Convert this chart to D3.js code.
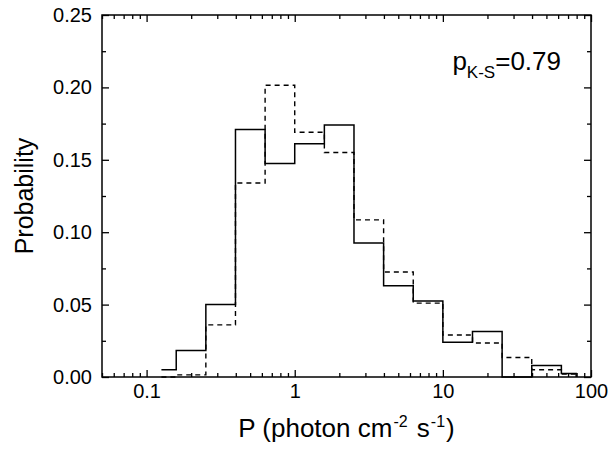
<!DOCTYPE html>
<html>
<head>
<meta charset="utf-8">
<script src="https://cdn.jsdelivr.net/npm/d3@7"></script>
<style>
  body { margin: 0; background: #fff; }
  text { font-family: "Liberation Sans", Arial, sans-serif; fill: #000; }
</style>
</head>
<body>
<div id="chart"></div>
<script>
'use strict';

// bin edges (photon cm^-2 s^-1), 0.2 dex wide, half bins at both ends
const bin_edges = [0.1259, 0.1585, 0.2512, 0.3981, 0.631, 1, 1.585, 2.512, 3.981, 6.31, 10, 15.85, 25.12, 39.81, 63.1, 79.43]
// observed (solid) and model (dashed) probabilities per bin
const solid_values = [0.005, 0.0183, 0.05, 0.171, 0.1475, 0.161, 0.174, 0.0925, 0.063, 0.0525, 0.024, 0.0315, 0, 0.008, 0.0025]
const dashed_values = [0, 0.0015, 0.036, 0.134, 0.2015, 0.169, 0.155, 0.1085, 0.0725, 0.051, 0.029, 0.0235, 0.0135, 0.005, 0.002]

const x_major = [0.1, 1, 10, 100]
const x_labels = ['0.1', '1', '10', '100']
const y_major = [0, 0.05, 0.1, 0.15, 0.2, 0.25]
const y_minor = [0.025, 0.075, 0.125, 0.175, 0.225]
const ks_label = '0.79'

const dims = { width: 613, height: 456, left: 102, right: 591, top: 15, bottom: 377 }

const svg = d3.select('#chart').append('svg')
  .attr('width', dims.width)
  .attr('height', dims.height)

const xScale = d3.scaleLog()
  .domain([0.05, 100])
  .range([dims.left, dims.right])

const yScale = d3.scaleLinear()
  .domain([0, 0.25])
  .range([dims.bottom, dims.top])

// minor log ticks 2..9 in each decade inside the domain
const x_minor = []
d3.range(-2, 2).forEach((p) => {
  d3.range(2, 10).forEach((k) => {
    const v = k * Math.pow(10, p)
    if(v >= 0.05 && v < 100) x_minor.push(+v.toPrecision(3))
  })
})

const major_len = 7
const minor_len = 4

function draw_axis(axis, transform){
  const g = svg.append('g')
    .attr('transform', transform)
    .style('font-size', '20px')
    .call(axis)
  g.select('.domain').remove()
  g.selectAll('line').attr('stroke', '#000').attr('stroke-width', 1.3)
  g.selectAll('text').style('font-family', '"Liberation Sans", Arial, sans-serif')
  return g
}

// bottom
draw_axis(d3.axisBottom(xScale).tickValues(x_major).tickSize(-major_len).tickPadding(7)
  .tickFormat((d, i) => x_labels[i]), `translate(0,${dims.bottom})`)
draw_axis(d3.axisBottom(xScale).tickValues(x_minor).tickSize(-minor_len).tickFormat(''),
  `translate(0,${dims.bottom})`)
// top
draw_axis(d3.axisTop(xScale).tickValues(x_major).tickSize(-major_len).tickFormat(''),
  `translate(0,${dims.top})`)
draw_axis(d3.axisTop(xScale).tickValues(x_minor).tickSize(-minor_len).tickFormat(''),
  `translate(0,${dims.top})`)
// left
draw_axis(d3.axisLeft(yScale).tickValues(y_major).tickSize(-major_len).tickPadding(10)
  .tickFormat(d3.format('.2f')), `translate(${dims.left},0)`)
draw_axis(d3.axisLeft(yScale).tickValues(y_minor).tickSize(-minor_len).tickFormat(''),
  `translate(${dims.left},0)`)
// right
draw_axis(d3.axisRight(yScale).tickValues(y_major).tickSize(-major_len).tickFormat(''),
  `translate(${dims.right},0)`)
draw_axis(d3.axisRight(yScale).tickValues(y_minor).tickSize(-minor_len).tickFormat(''),
  `translate(${dims.right},0)`)

// frame
svg.append('rect')
  .attr('x', dims.left)
  .attr('y', dims.top)
  .attr('width', dims.right - dims.left)
  .attr('height', dims.bottom - dims.top)
  .attr('fill', 'none')
  .attr('stroke', '#000')
  .attr('stroke-width', 1.5)

// step histograms
function step_points(values){
  const pts = values.map((v, i) => [bin_edges[i], v])
  pts.push([bin_edges[values.length], values[values.length - 1]])
  pts.push([bin_edges[values.length], 0])
  return pts
}

const line_gen = d3.line()
  .x((d) => xScale(d[0]))
  .y((d) => yScale(d[1]))
  .curve(d3.curveStepAfter)

svg.append('path')
  .datum(step_points(dashed_values))
  .attr('d', line_gen)
  .attr('fill', 'none')
  .attr('stroke', '#000')
  .attr('stroke-width', 1.4)
  .attr('stroke-dasharray', '5,4')

svg.append('path')
  .datum(step_points(solid_values))
  .attr('d', line_gen)
  .attr('fill', 'none')
  .attr('stroke', '#000')
  .attr('stroke-width', 1.5)

// axis titles
const x_title = svg.append('text')
  .attr('x', (dims.left + dims.right) / 2)
  .attr('y', 437)
  .attr('text-anchor', 'middle')
  .style('font-size', '26px')
x_title.append('tspan').text('P (photon cm')
x_title.append('tspan').attr('dx', 1).attr('dy', -10).style('font-size', '16px').text('-2')
x_title.append('tspan').attr('dx', 2).attr('dy', 10).text(' s')
x_title.append('tspan').attr('dx', 1).attr('dy', -10).style('font-size', '16px').text('-1')
x_title.append('tspan').attr('dx', 1).attr('dy', 10).text(')')

svg.append('text')
  .attr('transform', 'rotate(-90)')
  .attr('x', -(dims.top + dims.bottom) / 2)
  .attr('y', 33)
  .attr('text-anchor', 'middle')
  .style('font-size', '25px')
  .text('Probability')

// K-S probability label
const ks = svg.append('text')
  .attr('x', 561)
  .attr('y', 70)
  .attr('text-anchor', 'end')
  .style('font-size', '26px')
ks.append('tspan').text('p')
ks.append('tspan').attr('dy', 8).style('font-size', '17px').text('K-S')
ks.append('tspan').attr('dy', -8).text('=' + ks_label)
</script>
</body>
</html>
